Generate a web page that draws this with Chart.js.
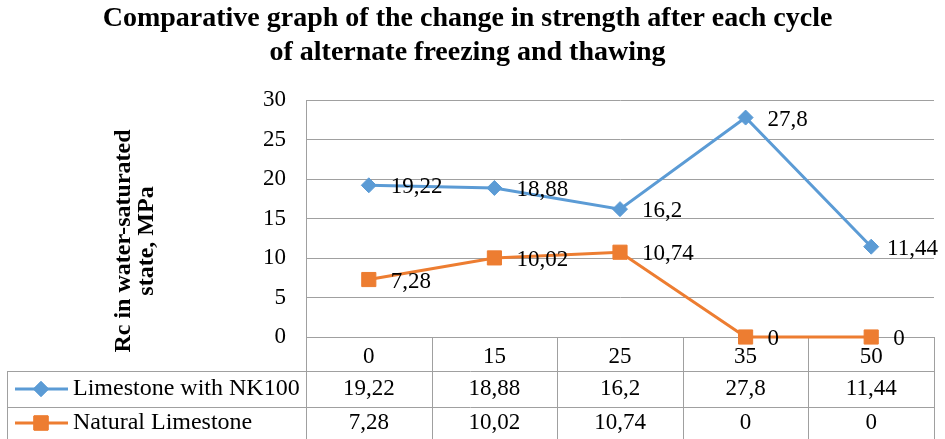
<!doctype html>
<html lang="en">
<head>
    <meta charset="utf-8">
    <script src="https://cdn.jsdelivr.net/npm/chart.js@4.4.1/dist/chart.umd.min.js"></script>
    <title>Freezing and thawing</title>
</head>
<body style="margin:0">
<canvas id="chart" width="945" height="439"></canvas>
</body>
<script>
    // number of freezing / thawing cycles
    const cycles = ['0', '15', '25', '35', '50'];
    // Rc in water-saturated state, MPa
    const nk100 = [19.22, 18.88, 16.2, 27.8, 11.44];
    const natural = [7.28, 10.02, 10.74, 0, 0];
    const seriesNames = ['Limestone with NK100', 'Natural Limestone'];
    const yMin = 0, yMax = 30, yStep = 5;
    const titleLines = ['Comparative graph of the change in strength after each cycle', 'of alternate freezing and thawing'];
    const yTitleLines = ['Rc in water-saturated', 'state, MPa'];

    const serif = "'Liberation Serif', 'Times New Roman', serif";
    const blue = '#5b9bd5';
    const orange = '#ed7d31';
    const grey = '#a0a0a0';

    function comma(v) {
        return String(v).replace('.', ',');
    }

    function px(v) {
        return Math.round(v) + 0.5;
    }

    const tablePlugin = {
        id: 'table',
        beforeDatasetsDraw(chart) {
            const ctx = chart.ctx;
            const area = chart.chartArea;
            const xs = chart.scales.x;
            const colW = (area.right - area.left) / cycles.length;
            const row1 = area.bottom + 34, row2 = area.bottom + 70, bottom = chart.height + 2;

            ctx.save();
            ctx.strokeStyle = grey;
            ctx.lineWidth = 1;
            ctx.beginPath();
            [row1, row2].forEach(function (y) {
                ctx.moveTo(7, px(y));
                ctx.lineTo(area.right, px(y));
            });
            ctx.moveTo(px(7), row1);
            ctx.lineTo(px(7), bottom);
            for (let i = 0; i <= cycles.length; i++) {
                const x = i < cycles.length ? xs.getPixelForValue(i) - colW / 2 : xs.getPixelForValue(i - 1) + colW / 2;
                ctx.moveTo(px(x), area.bottom);
                ctx.lineTo(px(x), bottom);
            }
            ctx.stroke();

            // y axis title
            ctx.fillStyle = '#000';
            ctx.font = 'bold 24px ' + serif;
            ctx.textAlign = 'center';
            ctx.textBaseline = 'alphabetic';
            ctx.translate(130, 241);
            ctx.rotate(-Math.PI / 2);
            ctx.fillText(yTitleLines[0], 0, 0);
            ctx.fillText(yTitleLines[1], 0, 23);
            ctx.restore();
        },
        afterDatasetsDraw(chart) {
            const ctx = chart.ctx;
            const area = chart.chartArea;
            const xs = chart.scales.x;
            const rows = [area.bottom + 52, area.bottom + 86];
            const values = [nk100, natural];

            ctx.save();
            ctx.font = '23px ' + serif;
            ctx.fillStyle = '#000';
            ctx.textBaseline = 'middle';

            // point labels
            ctx.textAlign = 'left';
            chart.data.datasets.forEach(function (ds, i) {
                chart.getDatasetMeta(i).data.forEach(function (pt, j) {
                    const text = comma(ds.data[j]);
                    const w = ctx.measureText(text).width;
                    const x = Math.min(pt.x + 22, chart.width - 7 - w);
                    ctx.fillText(text, x, pt.y + 2);
                });
            });

            // table rows
            values.forEach(function (arr, i) {
                const ds = chart.data.datasets[i];
                const y = rows[i];
                ctx.strokeStyle = ds.borderColor;
                ctx.lineWidth = 3;
                ctx.beginPath();
                ctx.moveTo(15, y);
                ctx.lineTo(68, y);
                ctx.stroke();
                ctx.fillStyle = ds.backgroundColor;
                ctx.lineWidth = 1;
                Chart.helpers.drawPoint(ctx, {pointStyle: ds.pointStyle, radius: ds.pointRadius, borderWidth: 1}, 41, y);
                ctx.fill();
                ctx.stroke();

                ctx.fillStyle = '#000';
                ctx.textAlign = 'left';
                ctx.font = '24px ' + serif;
                ctx.fillText(seriesNames[i], 73, y);
                ctx.font = '23px ' + serif;
                ctx.textAlign = 'center';
                arr.forEach(function (v, j) {
                    ctx.fillText(comma(v), xs.getPixelForValue(j), y);
                });
            });
            ctx.restore();
        }
    };

    const data = {
        labels: cycles,
        datasets: [
            {
                label: seriesNames[0],
                data: nk100,
                borderColor: blue,
                backgroundColor: blue,
                borderWidth: 3,
                pointStyle: 'rectRot',
                pointRadius: 7.5,
                pointBorderWidth: 1,
                clip: false
            },
            {
                label: seriesNames[1],
                data: natural,
                borderColor: orange,
                backgroundColor: orange,
                borderWidth: 3,
                pointStyle: 'rect',
                pointRadius: 10,
                pointBorderWidth: 1,
                clip: false
            }
        ]
    };

    const config = {
        type: 'line',
        data: data,
        options: {
            responsive: false,
            animation: false,
            layout: {
                padding: {left: 0, right: 10, top: 0, bottom: 0}
            },
            plugins: {
                legend: {display: false},
                tooltip: {enabled: false},
                title: {
                    display: true,
                    text: titleLines,
                    color: '#000',
                    font: {family: serif, size: 28, weight: 'bold', lineHeight: 1.2},
                    padding: {top: 2, bottom: 31}
                }
            },
            scales: {
                x: {
                    offset: true,
                    grid: {display: false, drawTicks: false},
                    border: {display: true, color: grey},
                    ticks: {color: '#000', font: {family: serif, size: 23}, padding: 6},
                    afterFit: function (scale) {
                        scale.height = 102;
                    }
                },
                y: {
                    min: yMin,
                    max: yMax,
                    grid: {color: grey, drawTicks: false},
                    border: {display: true, color: grey},
                    ticks: {stepSize: yStep, color: '#000', font: {family: serif, size: 23}, padding: 20},
                    afterFit: function (scale) {
                        scale.width = 306;
                    }
                }
            }
        },
        plugins: [tablePlugin]
    };

    const chart = new Chart(
        document.getElementById('chart'),
        config
    );
</script>
</html>
